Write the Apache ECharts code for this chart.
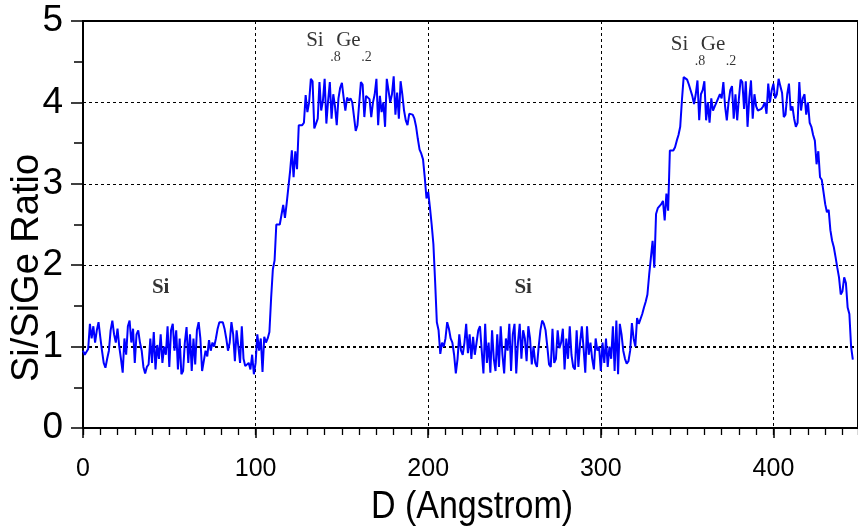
<!DOCTYPE html>
<html><head><meta charset="utf-8">
<script src="https://cdn.jsdelivr.net/npm/echarts@6/dist/echarts.min.js"></script>
<style>html,body{margin:0;padding:0;background:#fff}#c{width:858px;height:530px}</style>
</head><body><div id="c"></div>
<script>
// Depth step (Angstrom) between consecutive samples, starting at 0
const depthStart = 0;
const depthStep = 1;
// Si/SiGe ratio, one value per Angstrom (0..446)
const ratio = [
0.95,0.90,0.92,0.97,1.28,1.10,1.25,1.05,1.20,1.30,
1.12,0.95,0.80,0.74,0.85,0.95,1.20,1.32,1.15,1.05,
1.22,1.00,0.85,0.68,1.10,0.90,1.25,1.32,1.05,1.22,
0.80,1.15,1.20,1.05,0.95,0.75,0.67,0.75,0.78,1.10,
0.80,1.18,0.72,1.02,0.85,1.15,0.80,1.00,0.90,1.25,
0.75,1.20,1.28,0.95,1.20,0.72,1.10,0.66,0.70,1.05,
1.24,0.80,1.15,0.70,1.10,0.78,1.20,1.30,1.10,0.70,
0.72,0.95,0.88,1.08,0.95,1.05,1.00,1.10,1.22,1.30,
1.32,1.30,1.22,1.10,0.95,1.05,1.30,1.15,0.82,1.20,
1.00,0.80,1.25,0.85,0.76,0.74,0.80,0.72,0.90,0.66,
0.80,1.15,0.95,1.10,0.69,1.12,1.05,1.10,1.18,1.60,
1.95,2.06,2.50,2.48,2.50,2.52,2.74,2.58,2.76,2.96,
3.16,3.41,3.08,3.40,3.18,3.72,3.74,3.72,3.75,4.09,
3.88,4.00,4.29,4.26,3.68,3.74,3.80,4.25,3.90,4.02,
4.29,3.74,4.02,4.25,3.80,4.10,3.95,3.72,4.05,4.18,
4.24,4.06,3.90,4.06,4.02,4.05,4.00,4.02,3.65,3.72,
3.74,4.25,4.22,3.82,4.08,4.06,4.04,3.82,4.00,4.10,
4.29,3.72,4.08,3.88,4.00,3.70,4.29,4.28,4.00,4.10,
4.32,3.85,4.12,3.80,4.26,4.10,3.90,3.78,3.72,3.86,
3.86,3.85,3.80,3.70,3.55,3.42,3.37,3.30,3.08,2.82,
2.90,2.71,2.50,2.26,1.80,1.30,1.20,0.91,1.05,1.00,
1.10,1.30,1.22,1.10,1.05,0.90,0.67,0.85,1.15,0.95,
0.90,1.05,1.28,0.92,1.15,0.85,1.12,0.90,1.05,1.20,
1.25,0.95,0.67,1.28,0.80,1.05,0.68,1.20,0.85,0.70,
1.15,0.75,1.25,0.90,0.67,1.10,0.95,1.28,0.70,1.15,
1.28,0.67,1.05,1.28,0.85,1.20,1.10,0.82,1.25,1.10,
0.78,1.00,0.80,0.75,1.00,1.20,1.32,1.28,1.20,1.00,
0.78,0.75,1.22,0.80,0.85,1.20,0.98,1.05,1.22,0.72,
1.10,0.85,1.25,0.90,0.75,0.72,1.20,0.75,1.05,1.25,
0.98,0.68,1.25,0.90,1.05,0.85,0.72,1.10,0.95,1.00,
0.70,1.05,0.80,1.10,0.75,1.00,0.85,1.25,0.70,1.32,
0.66,1.28,1.15,0.95,0.85,0.79,0.82,0.95,1.29,1.10,
1.00,1.35,1.28,1.30,1.40,1.48,1.55,1.64,1.88,2.09,
2.30,1.97,2.63,2.70,2.71,2.75,2.79,2.55,2.88,2.67,
3.41,3.42,3.41,3.45,3.53,3.60,3.70,4.03,4.31,4.31,
4.28,4.22,4.15,4.08,3.98,4.10,4.27,3.78,4.10,4.15,
4.26,3.78,4.00,3.75,4.05,3.90,3.95,4.00,3.98,4.10,
4.05,4.25,3.95,3.78,4.00,4.15,4.20,3.80,4.10,3.78,
4.05,4.28,4.25,3.92,4.26,3.70,4.05,4.27,3.80,4.10,
3.95,3.90,3.88,3.92,3.95,4.00,3.86,4.23,4.00,4.15,
4.23,4.05,4.10,4.29,4.20,4.12,3.82,3.85,4.10,4.23,
3.90,3.95,3.80,3.70,3.75,4.25,3.90,4.05,4.10,3.85,
4.00,3.75,3.70,3.60,3.53,3.24,3.40,3.08,3.05,2.90,
2.75,2.65,2.68,2.43,2.30,2.22,2.10,1.97,1.85,1.64,
1.68,1.85,1.78,1.48,1.40,1.00,0.84
];
const yTicks = [0, 1, 2, 3, 4, 5];
const xTickLabels = [0, 100, 200, 300, 400];
// layer labels: depth / ratio anchor of the text
const siLabelDepth = [45, 255];
const siLabelRatio = [1.73, 1.73];
const alloyDepth = [129.3, 340.5];
const alloyRatio = [4.757, 4.708];
const alloyParts = ['Si', '.8', 'Ge', '.2'];

const seriesData = ratio.map((v, i) => [depthStart + i * depthStep, v]);

const FONT = 'Liberation Sans, Arial, sans-serif';
const SERIF = 'Liberation Serif, Times New Roman, serif';
const partStyle = [
  {offset: [0, 0], fontSize: 21},
  {offset: [24, 17], fontSize: 14},
  {offset: [30, 0], fontSize: 21},
  {offset: [55, 17], fontSize: 14}
];
const alloyData = [];
alloyDepth.forEach((d, k) => {
  alloyParts.forEach((txt, j) => {
    alloyData.push({
      value: [d, alloyRatio[k]],
      label: {
        show: true, position: 'inside', align: 'left', verticalAlign: 'middle',
        formatter: txt, offset: partStyle[j].offset.slice(),
        fontSize: partStyle[j].fontSize, fontFamily: SERIF, color: '#000'
      }
    });
  });
});

const chart = echarts.init(document.getElementById('c'), null, {renderer: 'canvas'});
const grid = {left: 83, right: -3, top: 21, bottom: 102};
const xMax = 449;

const option = {
  animation: false,
  backgroundColor: '#fff',
  grid: Object.assign({show: true, borderColor: '#000', borderWidth: 2, backgroundColor: 'transparent'}, grid),
  xAxis: [{
    type: 'value', min: 0, max: xMax, interval: 100,
    axisLine: {show: true, onZero: false, lineStyle: {color: '#000', width: 2}},
    axisTick: {show: true, length: 10, lineStyle: {color: '#000', width: 1.5}},
    axisLabel: {
      color: '#000', fontFamily: FONT, fontSize: 25, margin: 29,
      showMaxLabel: false,
      formatter: v => (xTickLabels.indexOf(v) >= 0 ? String(v) : '')
    },
    splitLine: {show: true, lineStyle: {color: '#000', width: 1, type: [3, 3]}}
  }, {
    type: 'value', min: 0, max: xMax, interval: 10, position: 'bottom', gridIndex: 0,
    axisLine: {show: false, onZero: false},
    axisTick: {show: true, length: 7, lineStyle: {color: '#000', width: 1.3}},
    axisLabel: {show: false},
    splitLine: {show: false}
  }],
  yAxis: {
    type: 'value', min: 0, max: 5, interval: 1,
    axisLine: {show: true, onZero: false, lineStyle: {color: '#000', width: 2}},
    axisTick: {show: true, length: 12, lineStyle: {color: '#000', width: 1.5}},
    minorTick: {show: true, splitNumber: 2, length: 9, lineStyle: {color: '#000', width: 1.5}},
    axisLabel: {
      color: '#000', fontFamily: FONT, fontSize: 37, margin: 20,
      formatter: v => (yTicks.indexOf(v) >= 0 ? String(v) : '')
    },
    splitLine: {show: true, lineStyle: {color: '#000', width: 1, type: [3, 3]}}
  },
  series: [{
    type: 'line',
    data: seriesData,
    xAxisIndex: 0,
    showSymbol: false,
    symbol: 'none',
    lineStyle: {color: '#0000FF', width: 2},
    z: 5,
    markLine: {
      silent: true, symbol: 'none', label: {show: false},
      lineStyle: {color: '#000', width: 2, type: [3, 3]},
      data: [{yAxis: 1}],
      z: 1
    }
  }, {
    type: 'scatter',
    data: siLabelDepth.map((d, i) => [d, siLabelRatio[i]]),
    symbolSize: 0,
    silent: true,
    label: {
      show: true, position: 'inside', formatter: 'Si',
      fontFamily: SERIF, fontSize: 21, fontWeight: 'bold', color: '#000'
    }
  }, {
    type: 'scatter',
    data: alloyData,
    symbolSize: 0,
    silent: true
  }],
  graphic: [{
    type: 'text', x: 28, y: 268, rotation: Math.PI / 2,
    style: {text: 'Si/SiGe Ratio', fontFamily: FONT, fontSize: 38, fill: '#000', align: 'center', verticalAlign: 'middle'}
  }, {
    type: 'text', x: 472, y: 507, scaleY: 1.15,
    style: {text: 'D (Angstrom)', fontFamily: FONT, fontSize: 34, fill: '#000', align: 'center', verticalAlign: 'middle'}
  }]
};
chart.setOption(option);
</script>
</body></html>
